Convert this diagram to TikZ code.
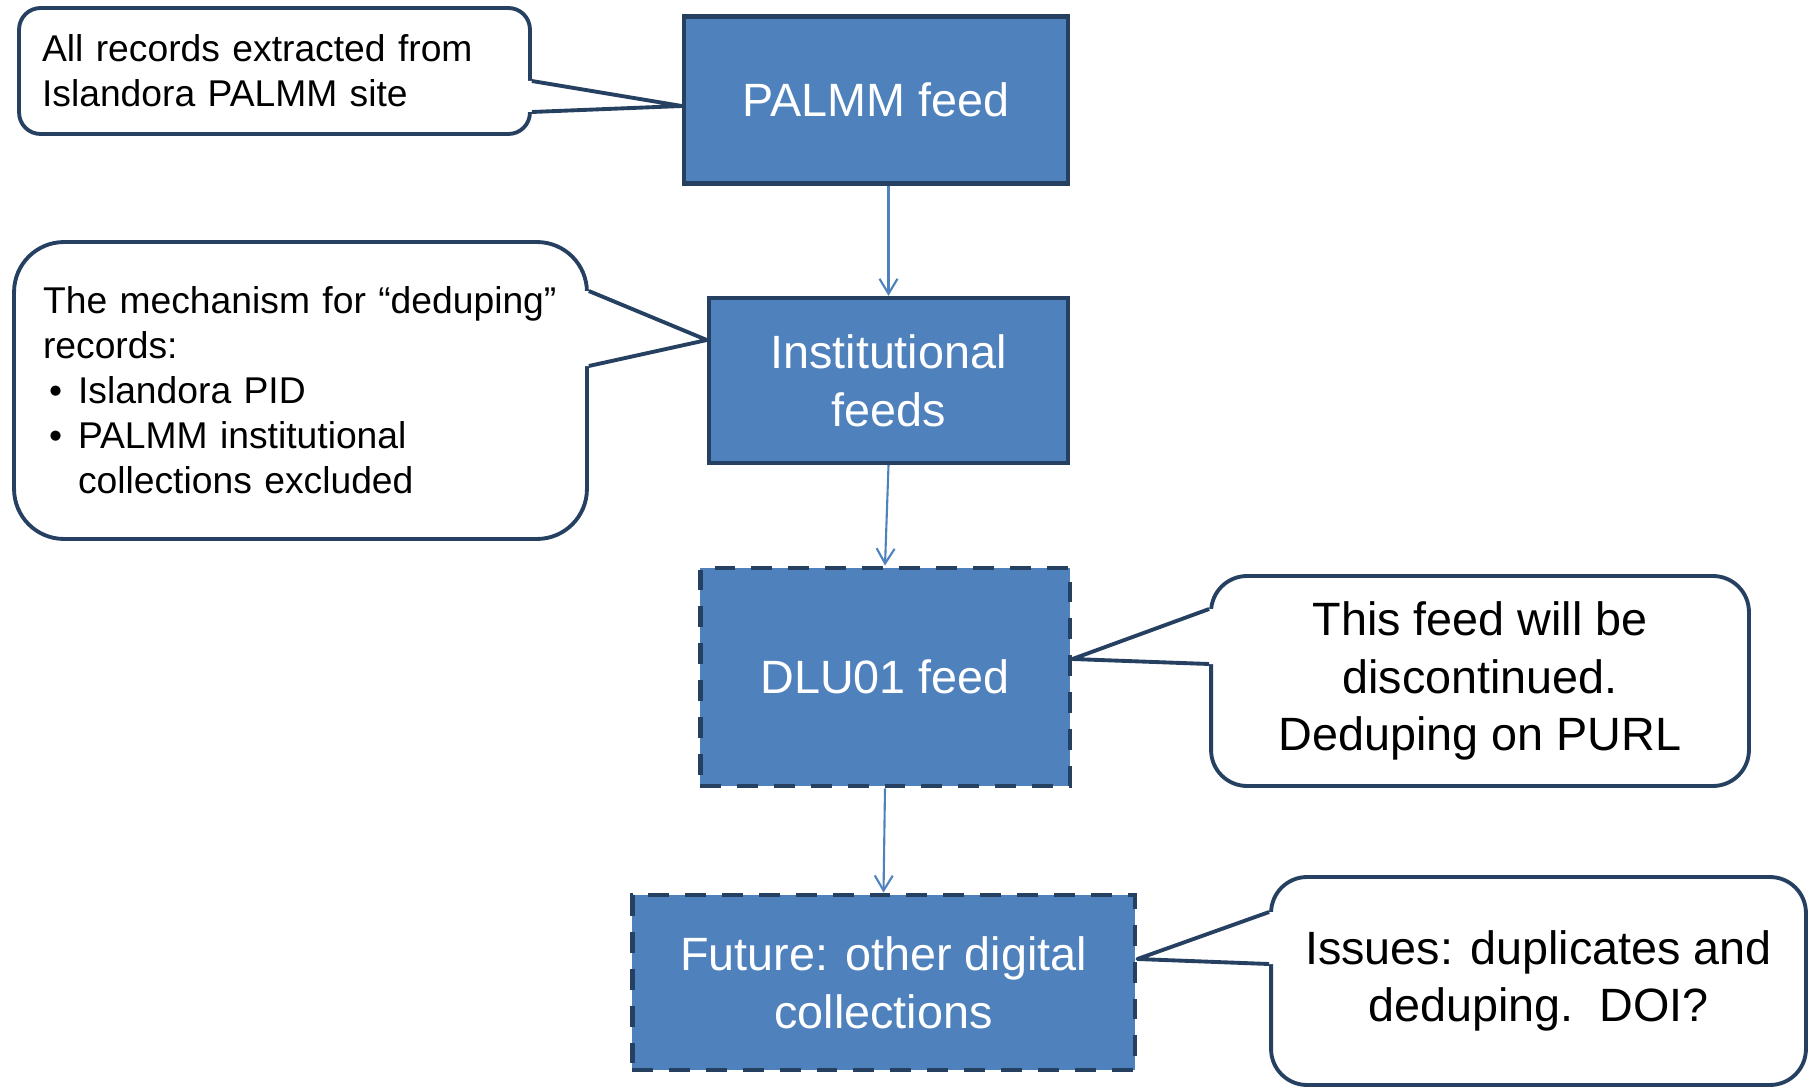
\documentclass[tikz,border=0pt]{standalone}
\usepackage{fontspec}
\setmainfont{Liberation Sans}
\usetikzlibrary{positioning, calc, arrows.meta}
\definecolor{feedblue}{RGB}{79,129,189}
\definecolor{navy}{RGB}{38,64,97}

\begin{document}
\begin{tikzpicture}[
    x=0.02cm, y=-0.02cm,
    feed/.style={rectangle, draw=navy, fill=feedblue, line width=2.5pt, align=center, text=white, inner sep=0pt, font=\fontsize{26.6}{32.8}\selectfont},
    planned/.style={feed, line width=2.8pt, dash pattern=on 11.9pt off 9.1pt},
    note/.style={rectangle, draw=navy, fill=white, line width=2.2pt, inner sep=0pt},
    pointer/.style={draw=navy, line width=2.2pt, line join=round},
    arrow/.style={-{Straight Barb[length=0.3cm, width=0.36cm]}, draw=feedblue, line width=1.2pt}
]
\useasboundingbox (0,0) rectangle (1812,1088);

% Feeds
\node[feed, minimum width=7.68cm, minimum height=3.34cm] (palmm) at (876,100) {PALMM feed};
\node[feed, minimum width=7.18cm, minimum height=3.3cm] (inst) at (888.5,380.5) {Institutional\\feeds};
\node[planned, minimum width=7.4cm, minimum height=4.36cm] (dlu) at (885,677) {DLU01 feed};
\node[planned, minimum width=10.06cm, minimum height=3.5cm] (future) at (883.5,982.5) {Future: other digital\\collections};

% Notes
\node[note, rounded corners=0.43cm, minimum width=10.22cm, minimum height=2.52cm, text width=9.3cm, align=left, font=\fontsize{21.2}{25.6}\selectfont] (note1) at (274.5,71) {All records extracted from\\Islandora PALMM site};
\node[note, rounded corners=1cm, minimum width=11.46cm, minimum height=5.94cm, text width=10.3cm, align=left, font=\fontsize{21.2}{25.6}\selectfont] (note2) at (300.5,390.5) {The mechanism for “deduping”\\records:\\\hspace*{0.12cm}\makebox[0.58cm][l]{\textbullet}Islandora PID\\\hspace*{0.12cm}\makebox[0.58cm][l]{\textbullet}PALMM institutional\\\hspace*{0.7cm}collections excluded};
\node[note, rounded corners=0.72cm, minimum width=10.76cm, minimum height=4.2cm, align=center, font=\fontsize{26.6}{32.8}\selectfont] (note3) at (1480,681) {This feed will be\\discontinued.\\Deduping on PURL};
\node[note, rounded corners=0.72cm, minimum width=10.7cm, minimum height=4.16cm, align=center, font=\fontsize{26.6}{32.8}\selectfont] (note4) at (1538.5,981) {Issues: duplicates and\\deduping.~~DOI?};

% Pointers
\coordinate (n1a) at ([yshift=-0.2cm]note1.east);
\coordinate (n1b) at ([yshift=-0.82cm]note1.east);
\coordinate (t1) at ([yshift=-0.12cm]palmm.west);
\fill[white] (n1a) -- (t1) -- (n1b) -- ([xshift=-0.1cm]n1b) -- ([xshift=-0.1cm]n1a) -- cycle;
\draw[pointer] (n1a) -- (t1) -- (n1b);

\coordinate (n2a) at ([yshift=1.99cm]note2.east);
\coordinate (n2b) at ([yshift=0.49cm]note2.east);
\coordinate (t2) at ([yshift=0.81cm]inst.west);
\fill[white] (n2a) -- (t2) -- (n2b) -- ([xshift=-0.1cm]n2b) -- ([xshift=-0.1cm]n2a) -- cycle;
\draw[pointer] (n2a) -- (t2) -- (n2b);

\coordinate (n3a) at ([yshift=1.44cm]note3.west);
\coordinate (n3b) at ([yshift=0.34cm]note3.west);
\coordinate (t3) at ([yshift=0.36cm]dlu.east);
\fill[white] (n3a) -- (t3) -- (n3b) -- ([xshift=0.1cm]n3b) -- ([xshift=0.1cm]n3a) -- cycle;
\draw[pointer] (n3a) -- (t3) -- (n3b);

\coordinate (n4a) at ([yshift=1.38cm]note4.west);
\coordinate (n4b) at ([yshift=0.34cm]note4.west);
\coordinate (t4) at ([yshift=0.47cm]future.east);
\fill[white] (n4a) -- (t4) -- (n4b) -- ([xshift=0.1cm]n4b) -- ([xshift=0.1cm]n4a) -- cycle;
\draw[pointer] (n4a) -- (t4) -- (n4b);

% Arrows
\draw[arrow] (inst.north |- palmm.south) -- (inst.north);
\draw[arrow] (inst.south) -- (dlu.north);
\draw[arrow] (dlu.south) -- (future.north);

\end{tikzpicture}
\end{document}
